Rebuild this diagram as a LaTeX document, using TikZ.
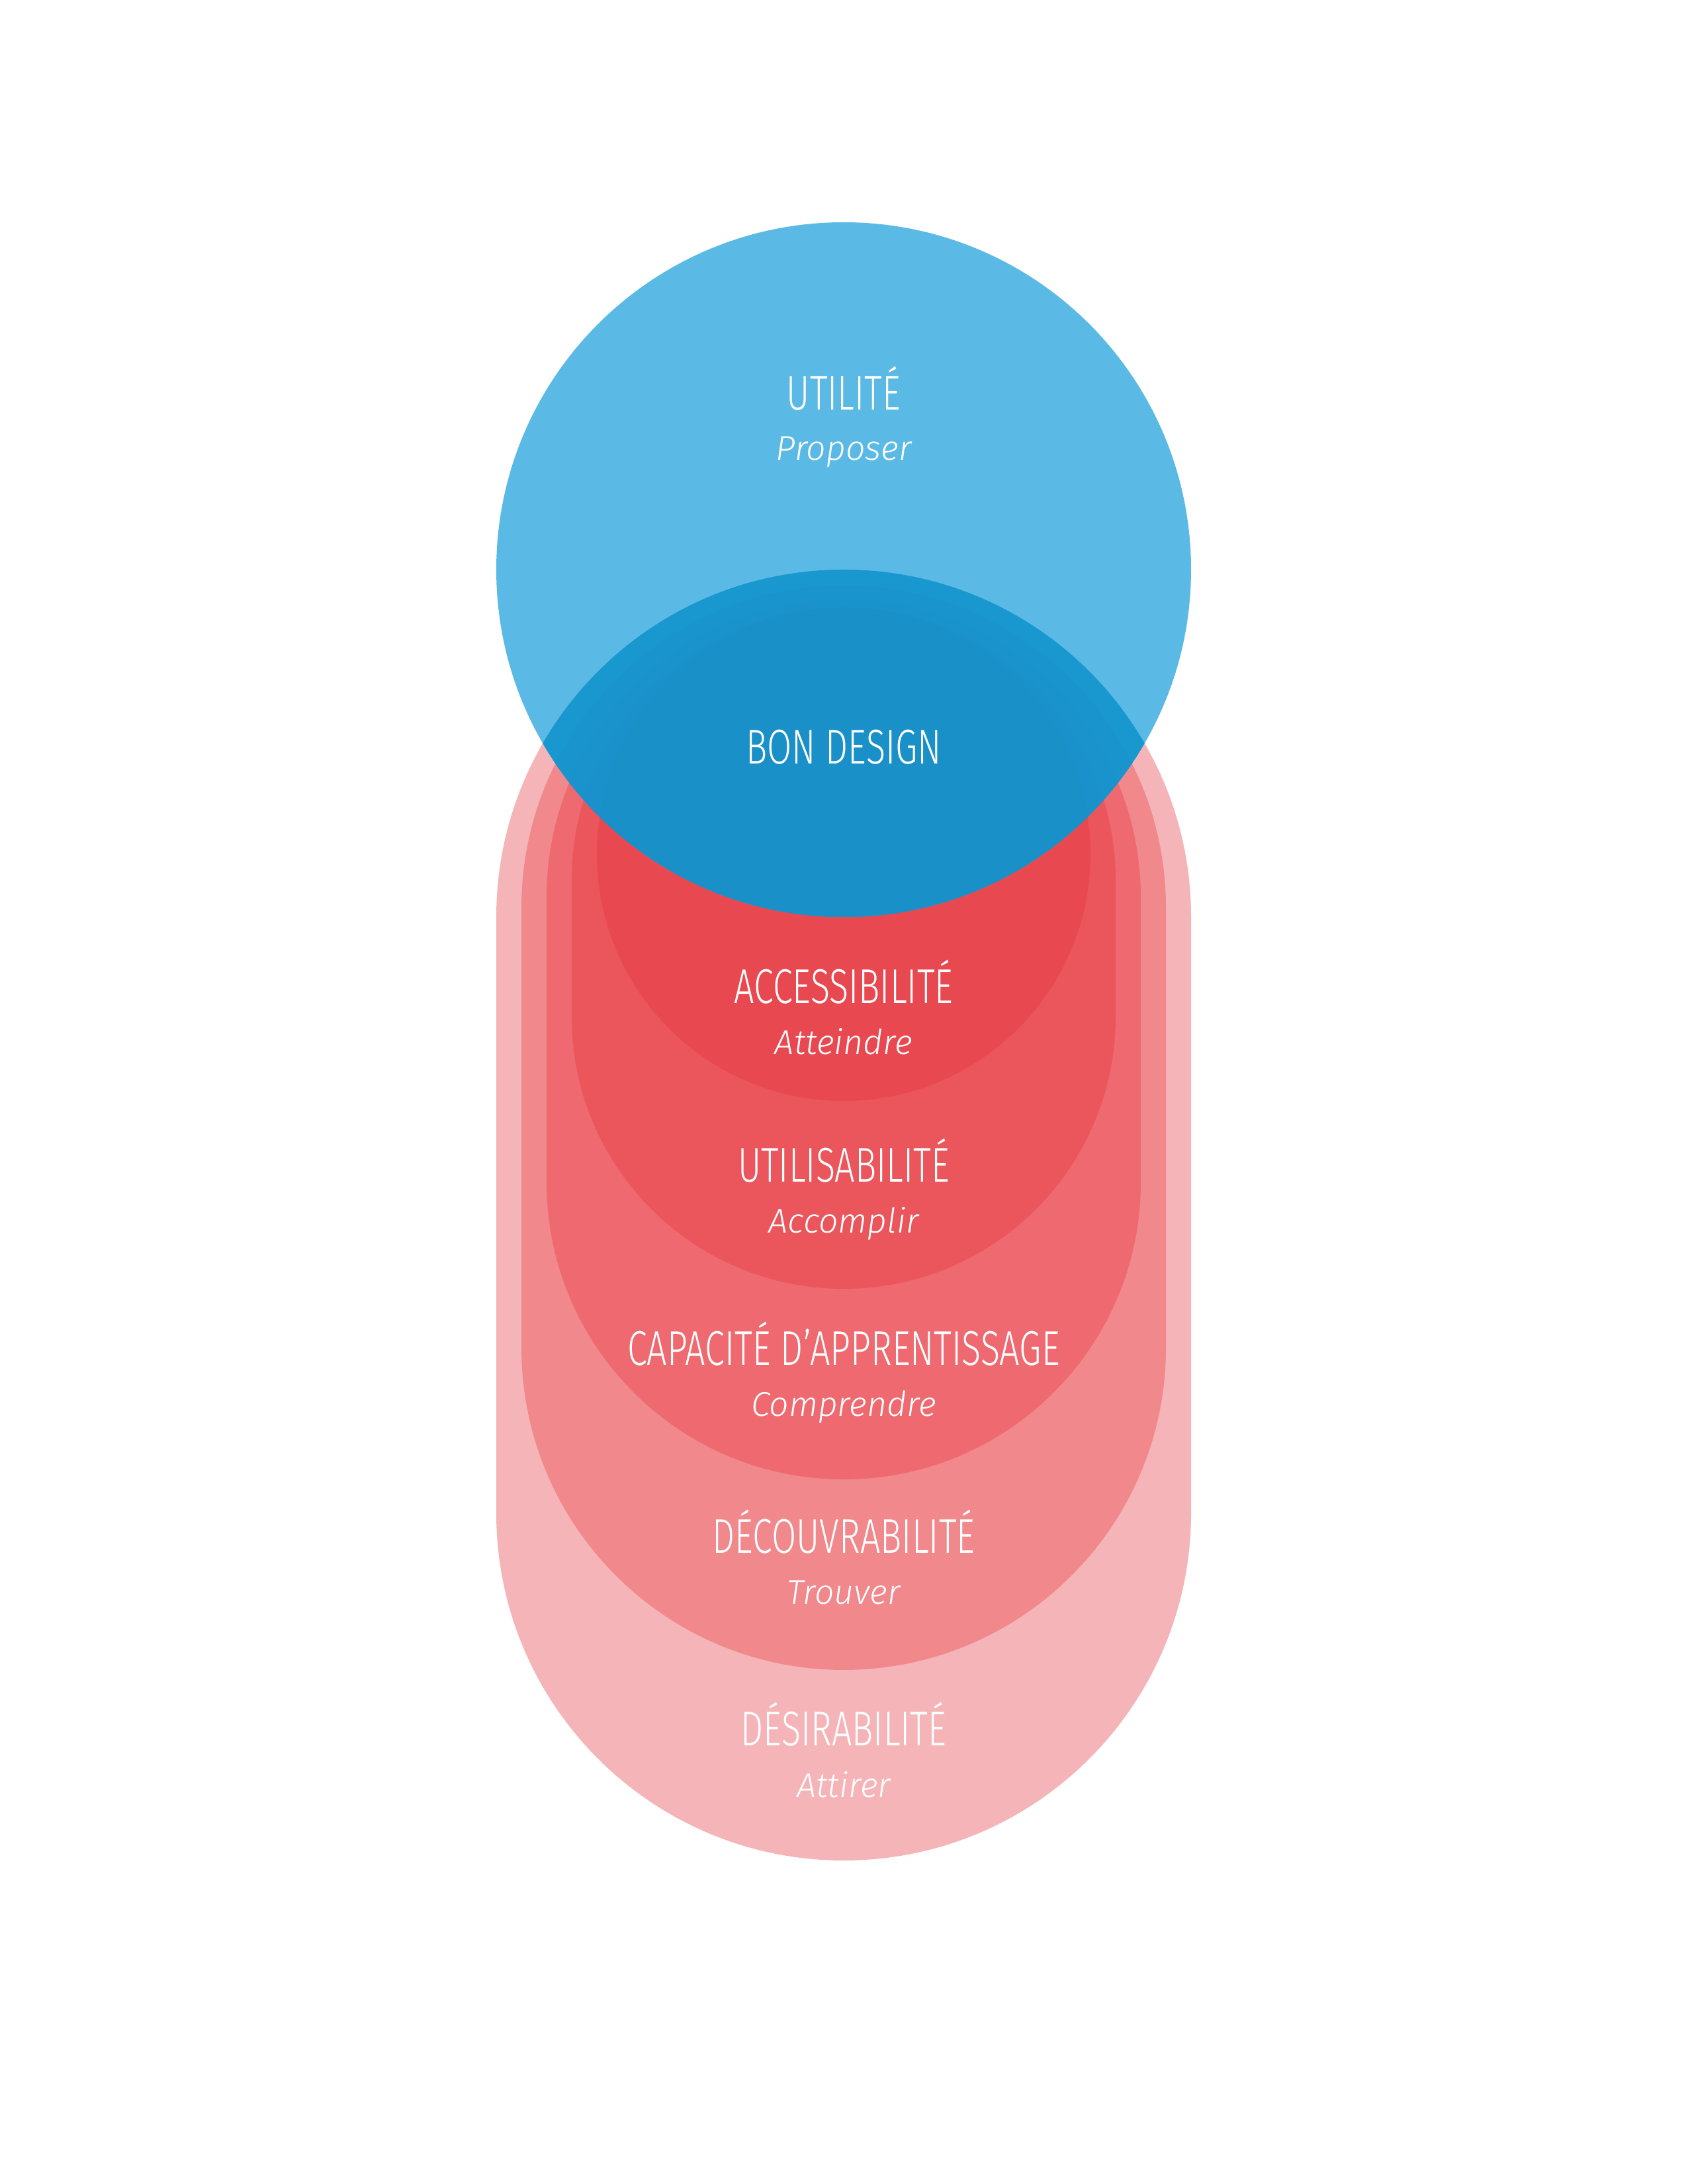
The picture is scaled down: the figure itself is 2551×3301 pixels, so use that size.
\documentclass[tikz,border=0pt]{standalone}
\usepackage{fontspec}
\IfFontExistsTF{Fira Sans Light}
  {\newfontfamily\headfont[FakeStretch=0.73]{Fira Sans Light}
   \newfontfamily\verbfont{Fira Sans Light}}
  {\newfontfamily\headfont[FakeStretch=0.73]{Fira Sans}
   \newfontfamily\verbfont{Fira Sans}}
\definecolor{utilblue}{HTML}{5BBAE5}
\definecolor{desirpink}{HTML}{F5B5B8}
\definecolor{decouvpink}{HTML}{F0888C}
\definecolor{capared}{HTML}{EE6A70}
\definecolor{utilisred}{HTML}{EA565C}
\definecolor{accessred}{HTML}{E84950}
\definecolor{bondark}{HTML}{1A91CB}
% capsule: radius, top centre, bottom centre
\newcommand{\capsule}[3]{(1275-#1,#3) -- (1275-#1,#2)
  arc[start angle=180,end angle=0,radius=#1] -- (1275+#1,#3)
  arc[start angle=0,end angle=-180,radius=#1] -- cycle}
\tikzset{x=0.0084667cm, y=0.0084667cm,
    headlabel/.style={font=\headfont\fontsize{17.8}{20}\selectfont,
      text=white, anchor=base, inner sep=0pt},
    verblabel/.style={font=\verbfont\itshape\fontsize{12.5}{15}\selectfont,
      text=white, anchor=base, inner sep=0pt},
    }

\begin{document}
\begin{tikzpicture}
\useasboundingbox (0,0) rectangle (2551,3301);
% red layers, outside in
\fill[desirpink] \capsule{525}{1915}{1014};
\fill[decouvpink] \capsule{487}{1929}{1264};
\fill[capared] \capsule{449}{1945}{1514};
\fill[utilisred] \capsule{411}{1971}{1764};
\fill[accessred] (1275,2010) circle[radius=373];
% utilite circle and its overlap
\fill[utilblue] (1275,2440) circle[radius=525];
\begin{scope}
  \clip (1275,2440) circle[radius=525];
  \fill[bondark!94!cyan] \capsule{525}{1915}{1014};
  \fill[bondark!97!cyan] \capsule{487}{1929}{1264};
  \fill[bondark!99!cyan] \capsule{449}{1945}{1514};
  \fill[bondark] \capsule{411}{1971}{1764};
  \fill[bondark!99!black] (1275,2010) circle[radius=373];
\end{scope}%overlap
% labels
\node[headlabel] (utilite) at (1275,2681) {UTILITÉ};
\node[verblabel] (proposer) at (1275,2605) {Proposer};
\node[headlabel] (bondesign) at (1275,2146) {BON DESIGN};
\node[headlabel] (access) at (1275,1784) {ACCESSIBILITÉ};
\node[verblabel] (atteindre) at (1275,1707) {Atteindre};
\node[headlabel] (utilis) at (1275,1514) {UTILISABILITÉ};
\node[verblabel] (accomplir) at (1275,1437) {Accomplir};
\node[headlabel] (capacite) at (1275,1237) {CAPACITÉ D’APPRENTISSAGE};
\node[verblabel] (comprendre) at (1275,1160) {Comprendre};
\node[headlabel] (decouv) at (1275,953) {DÉCOUVRABILITÉ};
\node[verblabel] (trouver) at (1275,876) {Trouver};
\node[headlabel] (desir) at (1275,662) {DÉSIRABILITÉ};
\node[verblabel] (attirer) at (1275,584) {Attirer};
\end{tikzpicture}
\end{document}
